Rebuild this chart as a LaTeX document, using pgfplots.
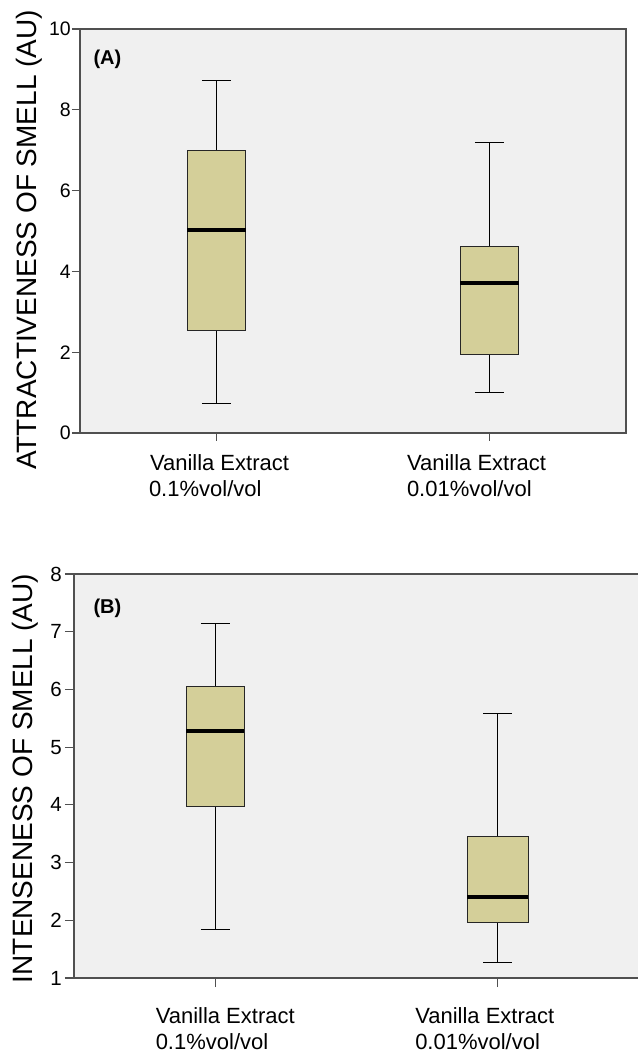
\documentclass[border=0pt]{standalone}
\usepackage{fontspec}
\setmainfont{Liberation Sans}
\usepackage{pgfplots}
\pgfplotsset{compat=1.18}
\usepgfplotslibrary{statistics}
\definecolor{boxfill}{RGB}{212,207,153}
\definecolor{bgfill}{RGB}{240,240,240}
\definecolor{axisgray}{RGB}{80,80,80}

\pgfplotsset{
  panel/.style={
    scale only axis,
    height=404bp,
    axis background/.style={fill=bgfill},
    axis line style={axisgray, line width=1.5bp},
    tick style={axisgray, line width=1.2bp},
    tick align=outside,
    xtick={1,2}, xmin=0.5, xmax=2.5,
    ytick pos=left, xtick pos=bottom,
    /pgf/number format/assume math mode=true,
    xticklabel style={align=left, inner sep=0pt, anchor=north,
      font=\fontsize{22bp}{26.5bp}\selectfont},
    yticklabel style={anchor=east},
    boxplot/draw direction=y,
    boxplot/every box/.style={draw=black!85, fill=boxfill, line width=0.9bp},
    boxplot/every whisker/.style={black, line width=1.1bp},
    boxplot/every median/.style={black, line width=3.6bp},
  },
}

\begin{document}
\begin{tikzpicture}
\useasboundingbox (0,0) rectangle (638bp,1053bp);

% Panel A
\begin{axis}[panel,
  at={(80bp,620bp)}, anchor=south west,
  width=546bp,
  ymin=0, ymax=10, ytick={0,2,4,6,8,10},
  major tick length=8bp,
  yticklabel style={inner sep=1bp, font=\fontsize{19.5bp}{23bp}\selectfont},
  xticklabel style={yshift=-13bp},
  xticklabels={{\hspace*{6bp}Vanilla Extract\\\hspace*{5bp}0.1\%vol/vol},
               {Vanilla Extract\hspace*{26bp}\\0.01\%vol/vol}},
  ylabel={ATTRACTIVENESS OF SMELL (AU)},
  every axis y label/.style={at={(axis description cs:-0.0788,0.478)}, rotate=90, anchor=base,
    font=\fontsize{28bp}{32bp}\selectfont},
]
\addplot[boxplot prepared={
    draw position=1, box extend=0.213, whisker extend=0.107,
    lower whisker=0.735, lower quartile=2.53, median=5.02,
    upper quartile=7.0, upper whisker=8.72}] coordinates {};
\addplot[boxplot prepared={
    draw position=2, box extend=0.215, whisker extend=0.107,
    lower whisker=1.0, lower quartile=1.95, median=3.72,
    upper quartile=4.61, upper whisker=7.19}] coordinates {};
\node[anchor=base west, font=\bfseries\fontsize{20bp}{24bp}\selectfont]
  at (axis description cs:0.0183,0.911) {(A)};
\end{axis}

% Panel B
\begin{axis}[panel,
  at={(74bp,75bp)}, anchor=south west,
  width=565bp,
  ymin=1, ymax=8, ytick={1,2,3,4,5,6,7,8},
  major tick length=9bp,
  yticklabel style={inner sep=3bp, font=\fontsize{20.5bp}{24bp}\selectfont},
  xticklabel style={yshift=-20bp},
  xticklabels={{\hspace*{20bp}Vanilla Extract\\\hspace*{20bp}0.1\%vol/vol},
               {Vanilla Extract\hspace*{26bp}\\0.01\%vol/vol}},
  ylabel={INTENSENESS OF SMELL (AU)},
  every axis y label/.style={at={(axis description cs:-0.0727,0.494)}, rotate=90, anchor=base,
    font=\fontsize{28bp}{32bp}\selectfont},
]
\addplot[boxplot prepared={
    draw position=1, box extend=0.206, whisker extend=0.102,
    lower whisker=1.84, lower quartile=3.97, median=5.28,
    upper quartile=6.05, upper whisker=7.15}] coordinates {};
\addplot[boxplot prepared={
    draw position=2, box extend=0.215, whisker extend=0.102,
    lower whisker=1.27, lower quartile=1.97, median=2.40,
    upper quartile=3.45, upper whisker=5.59}] coordinates {};
\node[anchor=base west, font=\bfseries\fontsize{20bp}{24bp}\selectfont]
  at (axis description cs:0.0284,0.903) {(B)};
\end{axis}
\end{tikzpicture}
\end{document}
